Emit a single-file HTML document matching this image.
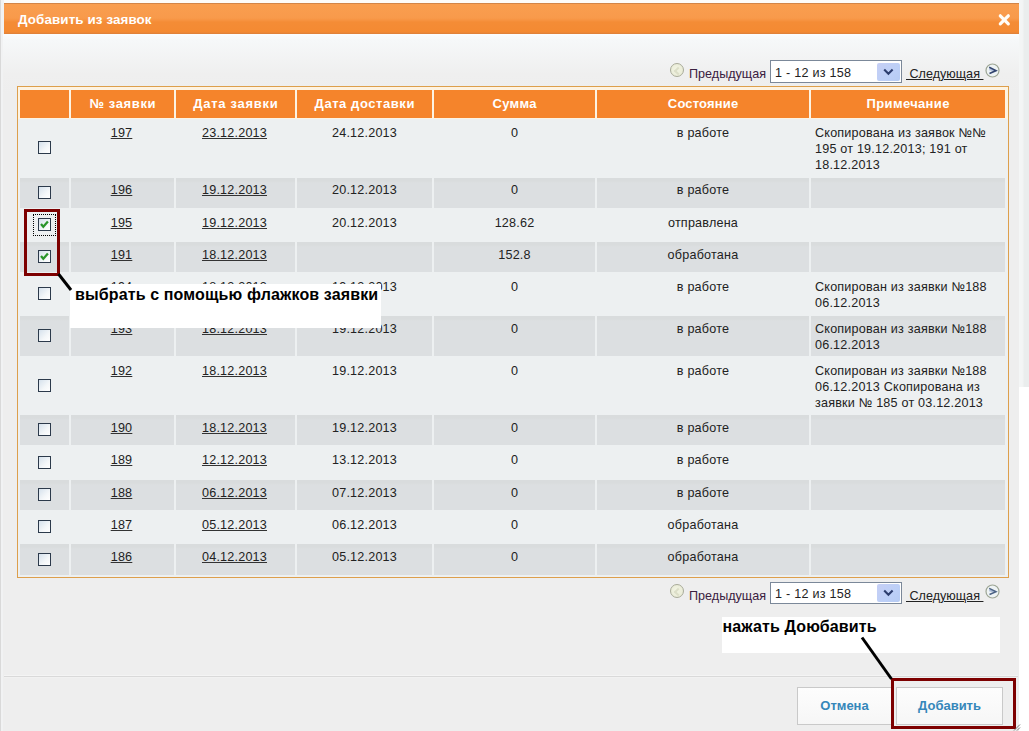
<!DOCTYPE html>
<html><head><meta charset="utf-8">
<style>
*{margin:0;padding:0;box-sizing:border-box}
html,body{width:1029px;height:731px;overflow:hidden;background:#fdfcfa;font-family:"Liberation Sans",sans-serif;color:#222}
.a{position:absolute}
#rightbg{left:1019px;top:0;width:10px;height:387px;background:linear-gradient(90deg,#f4f6f6 0,#f2f4f4 4px,#eaeded 5px)}
#rightbg2{left:1019px;top:387px;width:10px;height:344px;background:#ffffff}
#leftedge{left:0;top:0;width:4px;height:731px;background:linear-gradient(90deg,#d9d9d9 0,#d9d9d9 1px,#f1f2f3 1px)}
#dlg{left:3px;top:34px;width:1016px;height:697px;background:linear-gradient(#fbfdfe 0px,#f6f8f9 6px,#efefef 40px,#eeeeee 60px,#eeeeee 100%)}
#title{left:4px;top:3px;width:1015px;height:31px;background:linear-gradient(#d28548 0,#d28548 1px,#f99e50 1px,#f89a4b 15px,#f6923f 17.5px,#f48c36 19px,#f48a32 29px,#e6853a 30px,#dd7f36 31px)}
#title .t{left:14px;top:9px;font-size:13.4px;font-weight:bold;color:#fff;white-space:nowrap;letter-spacing:0.1px}
#close{width:16px;height:16px}
#sep{left:4px;top:675px;width:1014px;height:3px;background:linear-gradient(#f4f4f4 0,#f4f4f4 1px,#d9d9d9 1px,#d9d9d9 2px,#f1f1f1 2px)}
#sepw{display:none}
/* table */
#tbl{left:17px;top:86px;width:992px;height:492px;border:1px solid #dd9f4c;background:#edf0f1}
#tbl .cream{left:0;top:0;width:990px;height:32px;background:#fdf3e2}
.hc{position:absolute;top:3px;height:28px;background:#f5842b;color:#fff;font-weight:bold;font-size:13px;letter-spacing:0.45px;text-align:center;line-height:28px;white-space:nowrap}
.row{position:absolute;left:2px;width:988px}
.c{position:absolute;top:0;height:100%;font-size:12.6px;line-height:16px;white-space:nowrap;color:#222;letter-spacing:0.2px}
.g .c{background:linear-gradient(#d9dcdd 0,#d9dcdd 3px,#dcdfe1 5px)}
.ctr{text-align:center}
.tx{position:absolute;left:0;top:4.6px;width:100%}
.nt .tx{left:4px;text-align:left;letter-spacing:0.2px}
.c u{position:relative;left:-1px;text-decoration:underline;text-decoration-thickness:1px;text-underline-offset:1px;text-decoration-color:#333}
.cb{position:absolute;width:13px;height:13px;border:1px solid #2c3a4b;background:linear-gradient(135deg,#d5e1ec 0%,#f4f7f9 60%,#ffffff 100%)}
.cb.on::after{content:"";position:absolute;left:2px;top:1px;width:7px;height:7px}
/* pager */
.pg{position:absolute;left:0;width:1029px;height:26px}
.prev{position:absolute;left:670px;top:3px;width:14px;height:14px;border-radius:50%;border:1px solid #a9ab99;background:radial-gradient(circle at 45% 45%,#f3f5e4,#e6e8d2)}
.prev::after{content:"";position:absolute;left:4px;top:3.5px;width:4px;height:4px;border-left:2px solid #dcdec8;border-bottom:2px solid #dcdec8;transform:rotate(45deg)}
.ptxt{position:absolute;left:689px;top:7px;font-size:12.6px;color:#3a2040;white-space:nowrap}
.sel{position:absolute;left:770px;top:0;width:132px;height:23px;border:1px solid #7b8899;background:#fff}
.sel .v{position:absolute;left:4px;top:5px;font-size:12.6px;color:#222;white-space:nowrap;letter-spacing:0.25px}
.sel .btn{position:absolute;left:106px;top:2px;width:23px;height:18px;background:linear-gradient(135deg,#c6cff5,#bccff7 60%,#b6cbf3);border-radius:2px}
.ntxt{position:absolute;left:906px;top:7px;font-size:12.6px;color:#222;white-space:nowrap;text-decoration:underline}
.next{position:absolute;left:985px;top:2.5px;width:15px;height:15px}
/* callouts */
.call{position:absolute;background:#fff;font-size:16px;font-weight:bold;color:#000;white-space:nowrap;letter-spacing:0.13px}
.redbox{position:absolute;border:3px solid #7d0000}
.btn2{position:absolute;top:687px;height:38px;border:1px solid #c9c9c9;background:linear-gradient(#fdfdfd,#f6f6f6);color:#3587ba;font-weight:bold;font-size:13px;text-align:center;line-height:36px}
</style></head><body>
<div class="a" id="rightbg"></div>
<div class="a" id="rightbg2"></div>
<div class="a" id="leftedge"></div>
<div class="a" id="dlg"></div>
<div class="a" id="title"><div class="a t">Добавить из заявок</div>
<svg class="a" id="close" style="left:992.3px;top:9.1px" width="16" height="16" viewBox="0 0 16 16"><path d="M4.3 3.8L12.3 11.8M12.3 3.8L4.3 11.8" stroke="#fffdf8" stroke-width="3.2" stroke-linecap="round"/></svg>
</div>
<div class="a" id="sep"></div>
<div class="a" id="sepw"></div>

<!-- top pager -->
<div class="pg" style="top:60px">
 <div class="prev"></div>
 <div class="ptxt">Предыдущая</div>
 <div class="sel"><div class="v">1 - 12 из 158</div><div class="btn"><svg width="23" height="18" viewBox="0 0 23 18" style="position:absolute;left:0;top:0"><path d="M7.2 6.6L11.4 10.8L15.6 6.6" stroke="#2c3d6e" stroke-width="2.1" fill="none"/></svg></div></div>
 <div class="ntxt">&nbsp;Следующая&nbsp;</div>
 <svg class="next" viewBox="0 0 15 15"><circle cx="7.5" cy="7.5" r="6.5" fill="#eef3f4" stroke="#9da594" stroke-width="1.2"/><path d="M4.3 6.2L10.2 7.6" stroke="#b4c3de" stroke-width="2.2" fill="none"/><path d="M4.2 4.3L11 7.6L4.5 10.5" stroke="#32446f" stroke-width="1.6" fill="none"/></svg>
</div>

<!-- table -->
<div class="a" id="tbl">
 <div class="a cream"></div>
 <div class="hc" style="left:2px;width:49px"></div>
 <div class="hc" style="left:53px;width:103px;letter-spacing:0.64px;padding-left:0.64px">№ заявки</div>
 <div class="hc" style="left:158px;width:119px;letter-spacing:0.7px;padding-left:0.7px">Дата заявки</div>
 <div class="hc" style="left:279px;width:135px;letter-spacing:0.57px;padding-left:0.57px">Дата доставки</div>
 <div class="hc" style="left:416px;width:161px;letter-spacing:0.31px;padding-left:0.31px">Сумма</div>
 <div class="hc" style="left:579px;width:212px;letter-spacing:0.16px;padding-left:0.16px">Состояние</div>
 <div class="hc" style="left:793px;width:194px;letter-spacing:0.35px;padding-left:0.35px">Примечание</div>
 <div id="rows">
<div class="row" style="top:33px;height:56px">
 <div class="c" style="left:0px;width:49px">
  <div class="cb" style="left:18px;top:21px"></div>
 </div>
 <div class="c ctr" style="left:51px;width:103px"><div class="tx"><u>197</u></div></div>
 <div class="c ctr" style="left:156px;width:119px"><div class="tx"><u>23.12.2013</u></div></div>
 <div class="c ctr" style="left:277px;width:135px"><div class="tx">24.12.2013</div></div>
 <div class="c ctr" style="left:414px;width:161px"><div class="tx">0</div></div>
 <div class="c ctr" style="left:577px;width:212px"><div class="tx">в работе</div></div>
 <div class="c nt" style="left:791px;width:194px"><div class="tx">Скопирована из заявок №№<br>195 от 19.12.2013; 191 от<br>18.12.2013</div></div>
</div>
<div class="row g" style="top:91px;height:30px">
 <div class="c" style="left:0px;width:49px">
  <div class="cb" style="left:18px;top:8px"></div>
 </div>
 <div class="c ctr" style="left:51px;width:103px"><div class="tx" style="top:3.6px"><u>196</u></div></div>
 <div class="c ctr" style="left:156px;width:119px"><div class="tx" style="top:3.6px"><u>19.12.2013</u></div></div>
 <div class="c ctr" style="left:277px;width:135px"><div class="tx" style="top:3.6px">20.12.2013</div></div>
 <div class="c ctr" style="left:414px;width:161px"><div class="tx" style="top:3.6px">0</div></div>
 <div class="c ctr" style="left:577px;width:212px"><div class="tx" style="top:3.6px">в работе</div></div>
 <div class="c nt" style="left:791px;width:194px"><div class="tx" style="top:3.6px"></div></div>
</div>
<div class="row" style="top:123px;height:30px">
 <div class="c" style="left:0px;width:49px">
  <div class="cb on" style="left:18px;top:8px"><svg width="11" height="11" viewBox="0 0 11 11" style="position:absolute;left:0;top:0"><path d="M2 5L4.3 7.7L8.9 2.6" stroke="#2b952b" stroke-width="2.3" fill="none"/></svg></div>
  <div style="position:absolute;left:13px;top:4px;width:23px;height:22px;border:1px dotted #000"></div>
 </div>
 <div class="c ctr" style="left:51px;width:103px"><div class="tx"><u>195</u></div></div>
 <div class="c ctr" style="left:156px;width:119px"><div class="tx"><u>19.12.2013</u></div></div>
 <div class="c ctr" style="left:277px;width:135px"><div class="tx">20.12.2013</div></div>
 <div class="c ctr" style="left:414px;width:161px"><div class="tx">128.62</div></div>
 <div class="c ctr" style="left:577px;width:212px"><div class="tx">отправлена</div></div>
 <div class="c nt" style="left:791px;width:194px"><div class="tx"></div></div>
</div>
<div class="row g" style="top:155px;height:30px">
 <div class="c" style="left:0px;width:49px">
  <div class="cb on" style="left:18px;top:8px"><svg width="11" height="11" viewBox="0 0 11 11" style="position:absolute;left:0;top:0"><path d="M2 5L4.3 7.7L8.9 2.6" stroke="#2b952b" stroke-width="2.3" fill="none"/></svg></div>
 </div>
 <div class="c ctr" style="left:51px;width:103px"><div class="tx"><u>191</u></div></div>
 <div class="c ctr" style="left:156px;width:119px"><div class="tx"><u>18.12.2013</u></div></div>
 <div class="c ctr" style="left:277px;width:135px"><div class="tx"></div></div>
 <div class="c ctr" style="left:414px;width:161px"><div class="tx">152.8</div></div>
 <div class="c ctr" style="left:577px;width:212px"><div class="tx">обработана</div></div>
 <div class="c nt" style="left:791px;width:194px"><div class="tx"></div></div>
</div>
<div class="row" style="top:187px;height:40px">
 <div class="c" style="left:0px;width:49px">
  <div class="cb" style="left:18px;top:13px"></div>
 </div>
 <div class="c ctr" style="left:51px;width:103px"><div class="tx"><u>194</u></div></div>
 <div class="c ctr" style="left:156px;width:119px"><div class="tx"><u>18.12.2013</u></div></div>
 <div class="c ctr" style="left:277px;width:135px"><div class="tx">19.12.2013</div></div>
 <div class="c ctr" style="left:414px;width:161px"><div class="tx">0</div></div>
 <div class="c ctr" style="left:577px;width:212px"><div class="tx">в работе</div></div>
 <div class="c nt" style="left:791px;width:194px"><div class="tx">Скопирован из заявки №188<br>06.12.2013</div></div>
</div>
<div class="row g" style="top:229px;height:40px">
 <div class="c" style="left:0px;width:49px">
  <div class="cb" style="left:18px;top:13px"></div>
 </div>
 <div class="c ctr" style="left:51px;width:103px"><div class="tx"><u>193</u></div></div>
 <div class="c ctr" style="left:156px;width:119px"><div class="tx"><u>18.12.2013</u></div></div>
 <div class="c ctr" style="left:277px;width:135px"><div class="tx">19.12.2013</div></div>
 <div class="c ctr" style="left:414px;width:161px"><div class="tx">0</div></div>
 <div class="c ctr" style="left:577px;width:212px"><div class="tx">в работе</div></div>
 <div class="c nt" style="left:791px;width:194px"><div class="tx">Скопирован из заявки №188<br>06.12.2013</div></div>
</div>
<div class="row" style="top:271px;height:56px">
 <div class="c" style="left:0px;width:49px">
  <div class="cb" style="left:18px;top:21px"></div>
 </div>
 <div class="c ctr" style="left:51px;width:103px"><div class="tx"><u>192</u></div></div>
 <div class="c ctr" style="left:156px;width:119px"><div class="tx"><u>18.12.2013</u></div></div>
 <div class="c ctr" style="left:277px;width:135px"><div class="tx">19.12.2013</div></div>
 <div class="c ctr" style="left:414px;width:161px"><div class="tx">0</div></div>
 <div class="c ctr" style="left:577px;width:212px"><div class="tx">в работе</div></div>
 <div class="c nt" style="left:791px;width:194px"><div class="tx">Скопирован из заявки №188<br>06.12.2013 Скопирована из<br>заявки № 185 от 03.12.2013</div></div>
</div>
<div class="row g" style="top:328px;height:30px">
 <div class="c" style="left:0px;width:49px">
  <div class="cb" style="left:18px;top:8px"></div>
 </div>
 <div class="c ctr" style="left:51px;width:103px"><div class="tx"><u>190</u></div></div>
 <div class="c ctr" style="left:156px;width:119px"><div class="tx"><u>18.12.2013</u></div></div>
 <div class="c ctr" style="left:277px;width:135px"><div class="tx">19.12.2013</div></div>
 <div class="c ctr" style="left:414px;width:161px"><div class="tx">0</div></div>
 <div class="c ctr" style="left:577px;width:212px"><div class="tx">в работе</div></div>
 <div class="c nt" style="left:791px;width:194px"><div class="tx"></div></div>
</div>
<div class="row" style="top:360px;height:31px">
 <div class="c" style="left:0px;width:49px">
  <div class="cb" style="left:18px;top:9px"></div>
 </div>
 <div class="c ctr" style="left:51px;width:103px"><div class="tx"><u>189</u></div></div>
 <div class="c ctr" style="left:156px;width:119px"><div class="tx"><u>12.12.2013</u></div></div>
 <div class="c ctr" style="left:277px;width:135px"><div class="tx">13.12.2013</div></div>
 <div class="c ctr" style="left:414px;width:161px"><div class="tx">0</div></div>
 <div class="c ctr" style="left:577px;width:212px"><div class="tx">в работе</div></div>
 <div class="c nt" style="left:791px;width:194px"><div class="tx"></div></div>
</div>
<div class="row g" style="top:393px;height:30px">
 <div class="c" style="left:0px;width:49px">
  <div class="cb" style="left:18px;top:8px"></div>
 </div>
 <div class="c ctr" style="left:51px;width:103px"><div class="tx"><u>188</u></div></div>
 <div class="c ctr" style="left:156px;width:119px"><div class="tx"><u>06.12.2013</u></div></div>
 <div class="c ctr" style="left:277px;width:135px"><div class="tx">07.12.2013</div></div>
 <div class="c ctr" style="left:414px;width:161px"><div class="tx">0</div></div>
 <div class="c ctr" style="left:577px;width:212px"><div class="tx">в работе</div></div>
 <div class="c nt" style="left:791px;width:194px"><div class="tx"></div></div>
</div>
<div class="row" style="top:425px;height:30px">
 <div class="c" style="left:0px;width:49px">
  <div class="cb" style="left:18px;top:8px"></div>
 </div>
 <div class="c ctr" style="left:51px;width:103px"><div class="tx"><u>187</u></div></div>
 <div class="c ctr" style="left:156px;width:119px"><div class="tx"><u>05.12.2013</u></div></div>
 <div class="c ctr" style="left:277px;width:135px"><div class="tx">06.12.2013</div></div>
 <div class="c ctr" style="left:414px;width:161px"><div class="tx">0</div></div>
 <div class="c ctr" style="left:577px;width:212px"><div class="tx">обработана</div></div>
 <div class="c nt" style="left:791px;width:194px"><div class="tx"></div></div>
</div>
<div class="row g" style="top:457px;height:31px">
 <div class="c" style="left:0px;width:49px">
  <div class="cb" style="left:18px;top:9px"></div>
 </div>
 <div class="c ctr" style="left:51px;width:103px"><div class="tx"><u>186</u></div></div>
 <div class="c ctr" style="left:156px;width:119px"><div class="tx"><u>04.12.2013</u></div></div>
 <div class="c ctr" style="left:277px;width:135px"><div class="tx">05.12.2013</div></div>
 <div class="c ctr" style="left:414px;width:161px"><div class="tx">0</div></div>
 <div class="c ctr" style="left:577px;width:212px"><div class="tx">обработана</div></div>
 <div class="c nt" style="left:791px;width:194px"><div class="tx"></div></div>
</div>
</div><!--/rows-->
</div>

<!-- bottom pager -->
<div class="pg" style="top:582px">
 <div class="prev" style="top:2px"></div>
 <div class="ptxt">Предыдущая</div>
 <div class="sel" style="height:22px"><div class="v" style="top:4px">1 - 12 из 158</div><div class="btn" style="top:1px"><svg width="23" height="18" viewBox="0 0 23 18" style="position:absolute;left:0;top:0"><path d="M7.2 6.6L11.4 10.8L15.6 6.6" stroke="#2c3d6e" stroke-width="2.1" fill="none"/></svg></div></div>
 <div class="ntxt">&nbsp;Следующая&nbsp;</div>
 <svg class="next" style="top:2px" viewBox="0 0 15 15"><circle cx="7.5" cy="7.5" r="6.5" fill="#eef3f4" stroke="#9da594" stroke-width="1.2"/><path d="M4.3 6.2L10.2 7.6" stroke="#a9bad6" stroke-width="2.2" fill="none"/><path d="M4.2 4.3L11 7.6L4.5 10.5" stroke="#4b6284" stroke-width="1.5" fill="none"/></svg>
</div>

<!-- buttons -->
<div class="btn2" style="left:797px;width:95px">Отмена</div>
<div class="btn2" style="left:896px;width:107px">Добавить</div>


<!-- callouts -->
<div class="redbox" style="left:24px;top:209px;width:36px;height:67px"></div>
<div class="call" style="left:70px;top:284px;width:311px;height:44px"><span style="position:absolute;left:5px;top:2px">выбрать с помощью флажков заявки</span></div>
<div class="call" style="left:722px;top:617px;width:278px;height:36px"><span style="position:absolute;left:0.5px;top:1px">нажать Доюбавить</span></div>
<div class="redbox" style="left:891px;top:678px;width:125px;height:51px"></div>
<svg class="a" style="left:0;top:0" width="1029" height="731"><path d="M58.5 274L71 290" stroke="#000" stroke-width="3"/><path d="M862 637.5L891.5 679" stroke="#000" stroke-width="3"/></svg>
<svg class="a" style="left:1013px;top:722px" width="8" height="9"><path d="M1 8.5L7 2.5M4 8.5L7 5.5" stroke="#7a7a7a" stroke-width="1"/></svg>
</body></html>
